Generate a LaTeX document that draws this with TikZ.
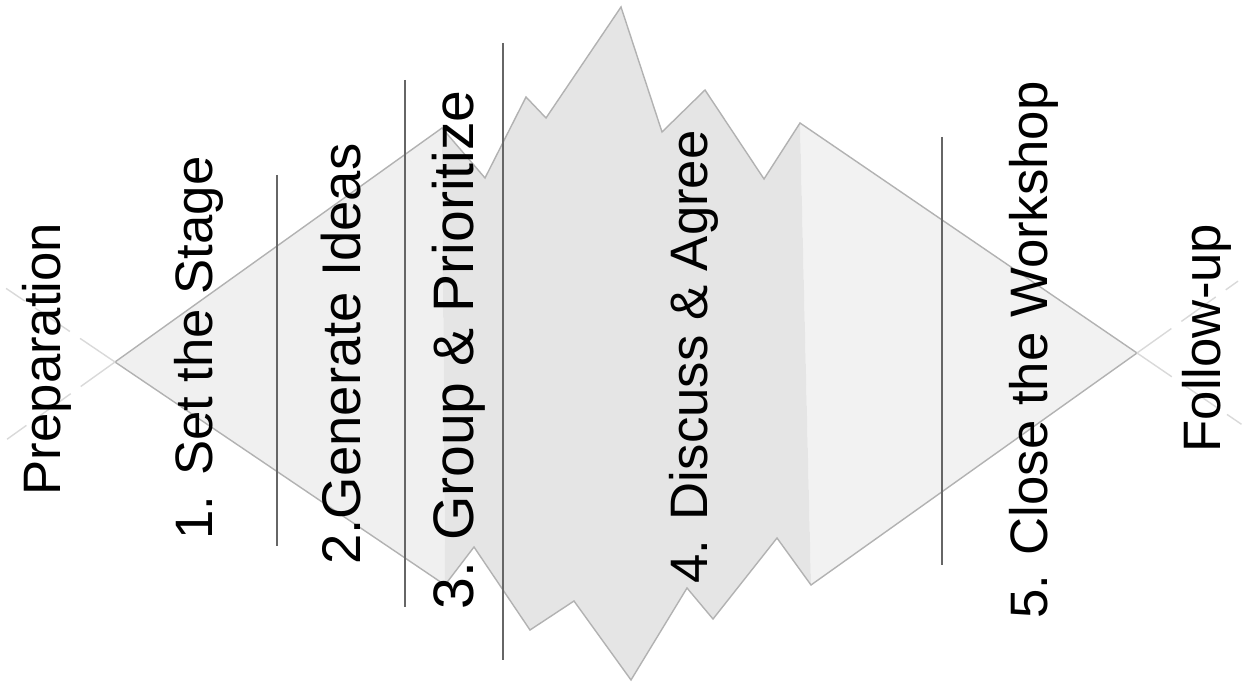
\documentclass[tikz,border=0pt]{standalone}
\usepackage{fontspec}
\setmainfont{Liberation Sans}
\usetikzlibrary{calc}

\begin{document}
\begin{tikzpicture}[x=0.02cm,y=-0.02cm,
  stage/.style={rotate=90,anchor=base,inner sep=0pt,font=\fontsize{30}{36}\selectfont},
  rim/.style={draw=black!30,line width=0.8pt},
  ghost/.style={draw=black!15,line width=0.8pt,dash pattern=on 24pt off 7pt},
  divider/.style={draw=black!60,line width=0.7pt}]
\useasboundingbox (0,0) rectangle (1250,685);
\coordinate (lt) at (115,362);
\coordinate (lu) at (442,128);
\coordinate (ld) at (445,585);
\coordinate (rt) at (1137,353);
\coordinate (ru) at (800,123);
\coordinate (rd) at (811,585);
% the two light triangles
\fill[black!6] (lt) -- (lu) -- (ld) -- cycle;
\fill[black!5] (rt) -- (ru) -- (rd) -- cycle;
% spiky middle part
\fill[black!10] (lu) -- (485,178) -- (526,97) -- (546,118) -- (621,7) -- (662,132)
  -- (705,90) -- (764,179) -- (ru) -- (rd) -- (777,538) -- (713,619) -- (687,588)
  -- (631,680) -- (574,601) -- (530,630) -- (474,547) -- (ld) -- cycle;
\draw[rim] (ld) -- (lt) -- (lu) -- (485,178) -- (526,97) -- (546,118) -- (621,7)
  -- (662,132) -- (705,90) -- (764,179) -- (ru) -- (rt) -- (rd) -- (777,538)
  -- (713,619) -- (687,588) -- (631,680) -- (574,601) -- (530,630) -- (474,547) -- (ld);
\draw[ghost] (lt) -- ($(lu)!1.33!(lt)$);
\draw[ghost] (lt) -- ($(ld)!1.33!(lt)$);
\draw[ghost] (rt) -- ($(ru)!1.31!(rt)$);
\draw[ghost] (rt) -- ($(rd)!1.31!(rt)$);
% dividers
\foreach \x/\a/\b in {277/175/546, 405/80/607, 503/43/660, 942/137/565}
  \draw[divider] (\x,\a) -- (\x,\b);
% stages
\node[stage] (prep) at (60,359) {Preparation};
\node[stage] (set) at (212,348) {1. Set the Stage};
\node[stage,font=\fontsize{31}{37}\selectfont] (gen) at (360,354) {2.Generate Ideas};
\node[stage,font=\fontsize{32.5}{39}\selectfont] (group) at (473,350) {3. Group \& Prioritize};
\node[stage] (discuss) at (707,357) {4. Discuss \& Agree};
\node[stage] (close) at (1047,350) {5. Close the Workshop};
\node[stage] (follow) at (1220,338) {Follow-up};
\end{tikzpicture}
\end{document}
